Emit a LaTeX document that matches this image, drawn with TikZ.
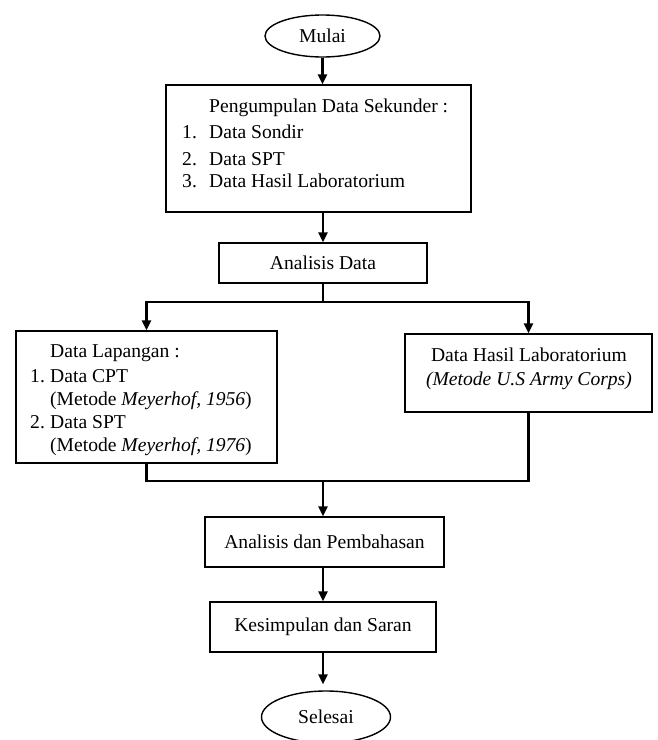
\documentclass[tikz,border=0pt]{standalone}
\usepackage{fontspec}
\setmainfont{Liberation Serif}
\usetikzlibrary{shapes.geometric,arrows.meta}
\newcommand\fsz{\fontsize{19.6}{23.5}\selectfont}
\begin{document}
\begin{tikzpicture}[x=1pt,y=-1pt,
  box/.style={draw,line width=1.4pt,inner sep=0pt},
  term/.style={ellipse,draw,line width=1.4pt,inner sep=0pt,font=\fsz},
  lbl/.style={inner sep=0pt,anchor=base west,font=\fsz},
  ctr/.style={inner sep=0pt,anchor=base,font=\fsz},
  conn/.style={line width=2.4pt,line join=miter},
  arr/.style={conn,-{Triangle[width=9pt,length=10pt]}}]
\useasboundingbox (0,0) rectangle (657,740);
\fill[white] (0,0) rectangle (657,740);

% terminals
\node[term,minimum width=115,minimum height=42] (mulai) at (322.5,36) {Mulai};
\node[term,minimum width=129,minimum height=52] (sel) at (326,717) {Selesai};

% box 1
\node[box,minimum width=305,minimum height=127] (b1) at (318.5,148.5) {};
\node[lbl] (b1t) at (209,112) {Pengumpulan Data Sekunder :};
\node[lbl] (b1n1) at (182,138) {1.};
\node[lbl] (b1a) at (209,138) {Data Sondir};
\node[lbl] (b1n2) at (182,165) {2.};
\node[lbl] (b1b) at (209,165) {Data SPT};
\node[lbl] (b1n3) at (182,187) {3.};
\node[lbl] (b1c) at (209,187) {Data Hasil Laboratorium};

% analisis data
\node[box,minimum width=208,minimum height=40,font=\fsz] (ad) at (323,263) {Analisis Data};

% left box
\node[box,minimum width=261,minimum height=132] (lb) at (146.5,397) {};
\node[lbl] (lbt) at (50,357) {Data Lapangan :};
\node[lbl] (lbn1) at (30,382) {1.};
\node[lbl] (lba) at (50,382) {Data CPT};
\node[lbl] (lbm1) at (50,405) {(Metode \textit{Meyerhof, 1956})};
\node[lbl] (lbn2) at (30,428) {2.};
\node[lbl] (lbb) at (50,428) {Data SPT};
\node[lbl] (lbm2) at (50,451) {(Metode \textit{Meyerhof, 1976})};

% right box
\node[box,minimum width=247,minimum height=78] (rb) at (528.5,373) {};
\node[ctr] (rbt) at (529,361) {Data Hasil Laboratorium};
\node[ctr] (rbm) at (529,385) {\textit{(Metode U.S Army Corps)}};

% lower boxes
\node[box,minimum width=239,minimum height=50,font=\fsz] (adp) at (324.5,542) {Analisis dan Pembahasan};
\node[box,minimum width=226,minimum height=50,font=\fsz] (kds) at (323,627) {Kesimpulan dan Saran};

% connectors
\coordinate (split) at (323,302);
\coordinate (merge) at (323,481);
\draw[arr] (mulai.south) -- (mulai.south |- b1.north);
\draw[arr] (ad.north |- b1.south) -- (ad.north);
\draw[conn] (ad.south) -- (split);
\draw[arr] (split) -| (lb.north);
\draw[arr] (split) -| (rb.north);
\draw[conn] (lb.south) |- (merge);
\draw[conn] (rb.south) |- (merge);
\draw[arr] (merge) -- (merge |- adp.north);
\draw[arr] (merge |- adp.south) -- (merge |- kds.north);
\draw[arr,shorten >=6pt] (merge |- kds.south) -- (merge |- sel.north);
\end{tikzpicture}
\end{document}
